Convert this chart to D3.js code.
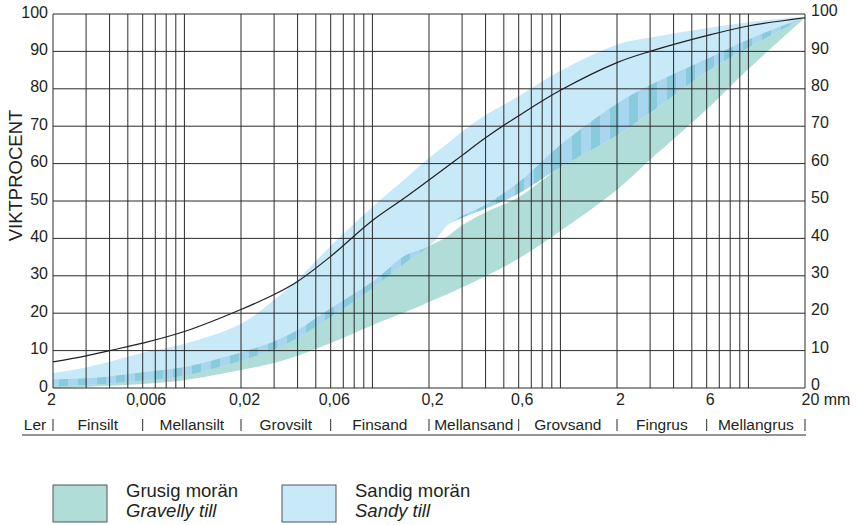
<!DOCTYPE html>
<meta charset="utf-8">
<style>
body { margin: 0; background: #fff; }
text { font-family: "Liberation Sans", Arial, sans-serif; fill: #231f20; }
.grid line { stroke: #2a2a2a; stroke-width: 1; }
.frame line { stroke: #2a2a2a; stroke-width: 1; }
.curve { fill: none; stroke: #231f20; stroke-width: 1.2px; }
</style>
<body>
<script src="https://d3js.org/d3.v7.min.js"></script>
<script>

// grain sizes (mm) where the band edges were read
var sizes = [0.002, 0.003, 0.004, 0.006, 0.01, 0.02, 0.03, 0.04, 0.06, 0.1, 0.15,
             0.2, 0.25, 0.3, 0.4, 0.6, 1, 2, 3, 6, 10, 20];

// Sandig morän (sandy till) band, weight percent passing
var sandUpper = [4, 5.5, 7, 9.4, 11.8, 17.2, 23.5, 29, 38, 48.4, 56,
                 61.5, 65.3, 68.5, 73, 78, 84.8, 91.8, 93.7, 96.2, 97.8, 99.3];
var sandLower = [0.3, 0.8, 1.2, 2, 3.3, 7.3, 10.3, 13.4, 19, 26.7, 33.5,
                 38, 43.5, 45.5, 48, 52, 59, 67.5, 73.5, 84.5, 91, 99];

// striped zone along the lower edge of the sandy band (overlap)
var overlapUpper = [2.3, 2.6, 3.1, 4.2, 5.6, 9.5, 12.5, 15.5, 21.3, 28.4, 35.5,
                    38, 43.5, 46, 49, 55, 65, 76, 81, 88, 93.2, 99.1];

// Grusig morän (gravelly till) band
var gravelUpper = [2.3, 2.6, 3.1, 4.2, 5.6, 9.5, 12.5, 15.5, 21.3, 28.4, 35.5,
                   38, 40.5, 43.5, 47, 51, 59, 67.5, 73.5, 84.5, 91, 99];
var gravelLower = [0, 0.3, 0.6, 1.1, 2.1, 4.8, 6.7, 8.6, 12, 16.8, 20.3,
                   23, 25.1, 26.9, 29.9, 34.6, 42, 53, 61, 74.5, 85.3, 99];

// the single black grading curve
var typeCurve = [7, 8.6, 10, 12, 15.1, 21, 25, 28.5, 35.2, 44.8, 51,
                 55.6, 59.2, 62.2, 66.9, 72.8, 79.6, 87, 90, 94.2, 96.8, 99];

// x axis labels
var tickSizes = [0.002, 0.006, 0.02, 0.06, 0.2, 0.6, 2, 6, 20];
var tickLabels = ["2", "0,006", "0,02", "0,06", "0,2", "0,6", "2", "6", "20 mm"];

// fraction names, each spans up to the boundary listed
var fractions = ["Ler", "Finsilt", "Mellansilt", "Grovsilt", "Finsand",
                 "Mellansand", "Grovsand", "Fingrus", "Mellangrus"];
var fractionBounds = [0.002, 0.006, 0.02, 0.06, 0.2, 0.6, 2, 6, 20];

var legendNames = ["Grusig morän", "Sandig morän"];
var legendNamesEn = ["Gravelly till", "Sandy till"];
var colors = { gravel: "#b0ddd7", sand: "#c7e9f8", stripeLight: "#a9d6ef", stripeDark: "#88cbdd" };

var W = 856, H = 525;
var margin = {top: 14, left: 53, right: 51, bottom: 137};
var width = W - margin.left - margin.right,   // 752
    height = H - margin.top - margin.bottom;  // 374

var x = d3.scaleLog().domain([0.002, 20]).range([margin.left, margin.left + width]);
var y = d3.scaleLinear().domain([0, 100]).range([margin.top + height, margin.top]);

var svg = d3.select("body").append("svg")
    .attr("width", W)
    .attr("height", H);

// stripe pattern for overlap zone
var pat = svg.append("defs").append("pattern")
    .attr("id", "stripes")
    .attr("patternUnits", "userSpaceOnUse")
    .attr("width", 19).attr("height", 10);
pat.append("rect").attr("width", 19).attr("height", 10).attr("fill", colors.stripeLight);
pat.append("rect").attr("x", 2).attr("width", 9).attr("height", 10).attr("fill", colors.stripeDark);

var smooth = d3.curveCatmullRom.alpha(0.5);

function band(lo, hi) {
  return d3.area()
      .curve(smooth)
      .x(function(d, i) { return x(sizes[i]); })
      .y0(function(d, i) { return y(lo[i]); })
      .y1(function(d, i) { return y(hi[i]); })(sizes);
}

svg.append("path").attr("d", band(gravelLower, gravelUpper)).attr("fill", colors.gravel);
svg.append("path").attr("d", band(sandLower, sandUpper)).attr("fill", colors.sand);
svg.append("path").attr("d", band(sandLower, overlapUpper)).attr("fill", "url(#stripes)");

// grid
var grid = svg.append("g").attr("class", "grid");
grid.selectAll(".v").data(x.ticks()).enter().append("line")
    .attr("x1", function(d) { return x(d); })
    .attr("x2", function(d) { return x(d); })
    .attr("y1", y(0)).attr("y2", y(100));
grid.selectAll(".h").data(y.ticks(10)).enter().append("line")
    .attr("x1", x(0.002)).attr("x2", x(20))
    .attr("y1", function(d) { return y(d); })
    .attr("y2", function(d) { return y(d); });

// black curve
svg.append("path")
    .attr("class", "curve")
    .attr("d", d3.line()
        .curve(smooth)
        .x(function(d, i) { return x(sizes[i]); })
        .y(function(d, i) { return y(typeCurve[i]); })(sizes));

// y axes (labels only)
var yl = svg.append("g")
    .attr("transform", "translate(" + (margin.left - 5) + ",-2)")
    .call(d3.axisLeft(y).ticks(10).tickSize(0).tickPadding(0));
var yr = svg.append("g")
    .attr("transform", "translate(" + (margin.left + width + 6) + ",-3.5)")
    .call(d3.axisRight(y).ticks(10).tickSize(0).tickPadding(0));
[yl, yr].forEach(function(g) {
  g.select(".domain").remove();
  g.selectAll("text").style("font-size", "16px").attr("fill", "#231f20")
      .style("font-family", "Liberation Sans, Arial, sans-serif");
});

svg.append("text")
    .attr("transform", "translate(21.5," + (margin.top + 161.5) + ") rotate(-90)")
    .attr("text-anchor", "middle")
    .style("font-size", "18.5px")
    .text("VIKTPROCENT");

// x labels
var xa = svg.append("g")
    .attr("transform", "translate(0," + (y(0) + 3) + ")")
    .call(d3.axisBottom(x).tickValues(tickSizes).tickSize(0).tickPadding(3)
        .tickFormat(function(d, i) { return tickLabels[i]; }));
xa.select(".domain").remove();
xa.selectAll("text")
    .style("font-size", "16px")
    .style("font-family", "Liberation Sans, Arial, sans-serif")
    .attr("fill", "#231f20")
    .attr("dx", function(d, i) { return i === 0 ? -2 : 3; });
xa.selectAll("text").filter(function(d, i) { return i === tickSizes.length - 1; })
    .attr("text-anchor", "start").attr("dx", -4);

// fraction row
var rowY = 431;
var frac = svg.append("g").attr("class", "frame");
frac.selectAll("line.sep").data(fractionBounds).enter().append("line")
    .attr("x1", function(d) { return x(d); })
    .attr("x2", function(d) { return x(d); })
    .attr("y1", rowY - 12).attr("y2", rowY);
frac.append("line")
    .attr("x1", 22).attr("x2", x(20) + 1)
    .attr("y1", rowY + 4).attr("y2", rowY + 4);
frac.selectAll("text").data(fractions).enter().append("text")
    .attr("x", function(d, i) {
      return i === 0 ? x(fractionBounds[0]) - 18 : (x(fractionBounds[i - 1]) + x(fractionBounds[i])) / 2;
    })
    .attr("y", rowY - 1)
    .attr("text-anchor", "middle")
    .style("font-size", "15.5px")
    .text(function(d) { return d; });

// legend
var leg = svg.append("g").selectAll("g").data(legendNames).enter().append("g")
    .attr("transform", function(d, i) { return "translate(" + (53 + i * 229) + ",485)"; });
leg.append("rect")
    .attr("width", 54).attr("height", 37)
    .attr("fill", function(d, i) { return i === 0 ? colors.gravel : colors.sand; })
    .attr("stroke", "#555").attr("stroke-width", 1);
leg.append("text")
    .attr("x", 73).attr("y", 12)
    .style("font-size", "18.5px")
    .text(function(d) { return d; });
leg.append("text")
    .attr("x", 73).attr("y", 32)
    .style("font-size", "18.5px")
    .style("font-style", "italic")
    .text(function(d, i) { return legendNamesEn[i]; });

</script>
</body>
